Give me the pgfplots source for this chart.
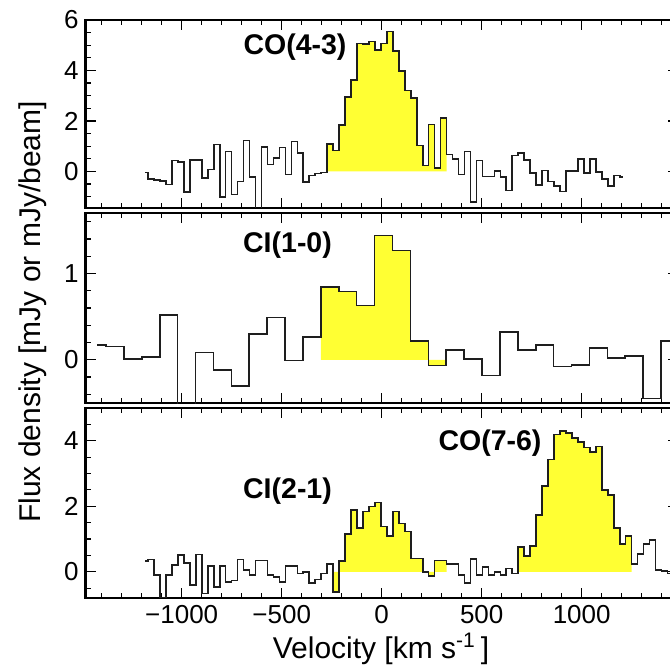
\documentclass[border=0pt]{standalone}
\usepackage{fontspec}
\setmainfont{Liberation Sans}
\usepackage{pgfplots}
\pgfplotsset{compat=1.18}
\definecolor{specyellow}{RGB}{255,255,51}
\definecolor{spec}{RGB}{30,30,30}
\pgfplotsset{
  specaxis/.style={
    scale only axis, width=296pt,
    xmin=-1480, xmax=1480,
    xtick={-1000,-500,0,500,1000},
    minor xtick={-1400,-1300,...,1400},
    tick align=inside, tick pos=both,
    major tick length=5pt, minor tick length=2.5pt,
    every tick/.style={black, line width=0.6pt},
    axis line style={line width=1.3pt},
    tick label style={font=\fontsize{13}{15}\selectfont},
    /pgf/number format/assume math mode=true,
    anchor=north west,
  },
  spectrum/.style={spec, line width=0.8pt, const plot mark mid},
  yel/.style={fill=specyellow, draw=none, const plot mark mid},
}
\tikzset{ttl/.style={font=\fontsize{14.25}{17}\selectfont\bfseries}}
\begin{document}
\begin{tikzpicture}
% ---------- Panel 1: CO(4-3)
\begin{axis}[specaxis, at={(42.85pt,325.5pt)}, height=94pt,
  ymin=-1.45, ymax=6, ytick={0,2,4,6},
  minor ytick={-1,-0.5,0.5,1,1.5,2.5,3,3.5,4.5,5,5.5},
  xticklabels={}]
\addplot[yel] coordinates {(-272.6,1.09) (-257.7,1.09) (-227.8,0.83) (-198.0,1.84) (-168.1,2.94) (-138.3,3.62) (-108.4,5.07) (-78.6,5.05) (-48.7,5.15) (-18.9,4.82) (11.0,5.07) (40.9,5.55) (70.7,4.78) (100.6,3.99) (130.4,3.20) (160.3,2.91) (190.1,1.03) (220.0,0.24) (249.8,1.86) (279.7,0.14) (309.5,2.12) (324.4,2.12)} \closedcycle;
\addplot[spectrum] coordinates {(-1183,-0.05) (-1153.2,-0.29) (-1123.3,-0.33) (-1093.5,-0.38) (-1063.6,-0.52) (-1033.8,0.43) (-1003.9,0.37) (-974.1,-0.82) (-944.2,0.46) (-914.4,0.46) (-884.5,-0.26) (-854.7,0.08) (-824.8,1.07) (-795.0,-1.01) (-765.1,0.79) (-735.3,-0.92) (-705.4,-0.40) (-675.6,1.23) (-645.7,-0.22) (-615.9,-1.6) (-586.0,0.96) (-556.2,0.28) (-526.3,0.54) (-496.5,0.94) (-466.6,-0.13) (-436.8,1.19) (-406.9,0.72) (-377.1,-0.42) (-347.2,-0.16) (-317.4,-0.09) (-287.5,-0.05) (-257.7,1.09) (-227.8,0.83) (-198.0,1.84) (-168.1,2.94) (-138.3,3.62) (-108.4,5.07) (-78.6,5.05) (-48.7,5.15) (-18.9,4.82) (11.0,5.07) (40.9,5.55) (70.7,4.78) (100.6,3.99) (130.4,3.20) (160.3,2.91) (190.1,1.03) (220.0,0.24) (249.8,1.86) (279.7,0.14) (309.5,2.12) (339.4,0.67) (369.2,0.50) (399.1,-0.13) (428.9,0.79) (458.8,-1.21) (488.6,0.43) (518.5,-0.20) (548.3,-0.20) (578.2,0.01) (608.0,-0.22) (637.9,-0.75) (667.7,0.63) (697.6,0.72) (727.4,0.46) (757.3,-0.07) (787.1,-0.53) (817.0,0.04) (846.8,-0.40) (876.7,-0.59) (906.5,-0.79) (936.4,0.01) (966.2,0.01) (996.1,0.50) (1025.9,-0.07) (1055.8,0.50) (1085.6,-0.03) (1115.5,-0.29) (1145.3,-0.58) (1175.2,-0.16) (1205.0,-0.22)};
\node[ttl] at (axis cs:-433.5,4.93) {CO(4-3)};
\end{axis}
% ---------- Panel 2: CI(1-0)
\begin{axis}[specaxis, at={(42.85pt,229pt)}, height=95pt,
  ymin=-0.5, ymax=1.7, ytick={0,1},
  minor ytick={-0.4,-0.2,0.2,0.4,0.6,0.8,1.2,1.4,1.6},
  xticklabels={}]
\addplot[yel] coordinates {(-304,0.84) (-259.25,0.84) (-169.75,0.79) (-80.25,0.63) (9.25,1.44) (98.75,1.265) (188.25,0.22) (277.75,-0.066) (322.5,-0.066)} \closedcycle;
\addplot[spectrum] coordinates {(-1422.75,0.175) (-1333.25,0.156) (-1243.75,0.012) (-1154.25,0.031) (-1064.75,0.52) (-975.25,-0.6) (-885.75,0.086) (-796.25,-0.117) (-706.75,-0.30) (-617.25,0.30) (-527.75,0.49) (-438.25,-0.008) (-348.75,0.265) (-259.25,0.84) (-169.75,0.79) (-80.25,0.63) (9.25,1.44) (98.75,1.265) (188.25,0.22) (277.75,-0.066) (367.25,0.117) (456.75,0.008) (546.25,-0.18) (635.75,0.32) (725.25,0.117) (814.75,0.175) (904.25,-0.078) (993.75,-0.058) (1083.25,0.136) (1172.75,0.019) (1262.25,0.047) (1351.75,-0.45) (1441.25,0.22) (1530.75,0.22)};
\node[ttl] at (axis cs:-471,1.33) {CI(1-0)};
\end{axis}
% ---------- Panel 3: CI(2-1) and CO(7-6)
\begin{axis}[specaxis, at={(42.85pt,131.5pt)}, height=95pt,
  ymin=-0.8, ymax=5, ytick={0,2,4},
  minor ytick={-0.5,0.5,1,1.5,2.5,3,3.5,4.5},
  xticklabels={−1000,−500,0,500,1000}]
\addplot[yel] coordinates {(-242.7,-0.61) (-227.8,-0.61) (-198.0,0.33) (-168.1,1.16) (-138.3,1.89) (-108.4,1.33) (-78.6,1.84) (-48.7,1.99) (-18.9,2.12) (11.0,1.38) (40.9,1.09) (70.7,1.84) (100.6,1.48) (130.4,1.23) (160.3,0.41) (190.1,0.41) (220.0,0.0) (249.8,-0.13) (279.7,0.34) (309.5,0.34) (324.4,0.34)} \closedcycle;
\addplot[yel] coordinates {(682.7,0.75) (697.6,0.75) (727.4,0.48) (757.3,0.79) (787.1,1.74) (817.0,2.61) (846.8,3.43) (876.7,4.19) (906.5,4.29) (936.4,4.24) (966.2,4.09) (996.1,3.96) (1025.9,3.80) (1055.8,3.65) (1085.6,3.83) (1115.5,2.50) (1145.3,2.35) (1175.2,1.33) (1205.0,0.85) (1234.85,1.10) (1249.8,1.10)} \closedcycle;
\addplot[spectrum] coordinates {(-1183,0.33) (-1153.2,0.38) (-1123.3,-0.10) (-1093.5,-0.78) (-1063.6,-0.10) (-1033.8,0.20) (-1003.9,0.51) (-974.1,0.26) (-944.2,-0.41) (-914.4,0.53) (-884.5,-0.66) (-854.7,0.17) (-824.8,-0.46) (-795.0,0.17) (-765.1,-0.31) (-735.3,-0.26) (-705.4,0.38) (-675.6,0.05) (-645.7,-0.10) (-615.9,0.34) (-586.0,0.34) (-556.2,-0.10) (-526.3,-0.15) (-496.5,-0.31) (-466.6,0.17) (-436.8,0.17) (-406.9,-0.05) (-377.1,0.0) (-347.2,-0.34) (-317.4,-0.24) (-287.5,-0.05) (-257.7,0.24) (-227.8,-0.61) (-198.0,0.33) (-168.1,1.16) (-138.3,1.89) (-108.4,1.33) (-78.6,1.84) (-48.7,1.99) (-18.9,2.12) (11.0,1.38) (40.9,1.09) (70.7,1.84) (100.6,1.48) (130.4,1.23) (160.3,0.41) (190.1,0.41) (220.0,0.0) (249.8,-0.13) (279.7,0.34) (309.5,0.34) (339.4,0.24) (369.2,0.24) (399.1,-0.10) (428.9,-0.34) (458.8,0.39) (488.6,-0.10) (518.5,0.15) (548.3,-0.10) (578.2,0.0) (608.0,-0.10) (637.9,0.10) (667.7,-0.05) (697.6,0.75) (727.4,0.48) (757.3,0.79) (787.1,1.74) (817.0,2.61) (846.8,3.43) (876.7,4.19) (906.5,4.29) (936.4,4.24) (966.2,4.09) (996.1,3.96) (1025.9,3.80) (1055.8,3.65) (1085.6,3.83) (1115.5,2.50) (1145.3,2.35) (1175.2,1.33) (1205.0,0.85) (1234.85,1.10) (1264.7,0.24) (1294.55,0.54) (1324.4,0.85) (1354.25,0.97) (1384.1,0.05) (1413.95,0.03) (1443.8,-0.05) (1473.65,-0.08) (1503.5,-0.08)};
\node[ttl] at (axis cs:-471,2.45) {CI(2-1)};
\node[ttl] at (axis cs:541.5,3.92) {CO(7-6)};
\end{axis}
\node[rotate=90, font=\fontsize{15}{18}\selectfont] at (16.5pt,179.5pt) {Flux density [mJy or mJy/beam]};
\node[font=\fontsize{15}{18}\selectfont] at (190.5pt,11.15pt) {Velocity [km s\textsuperscript{-1}\,]};
\pgfresetboundingbox
\useasboundingbox (0,0) rectangle (335pt,335.5pt);
\end{tikzpicture}
\end{document}
